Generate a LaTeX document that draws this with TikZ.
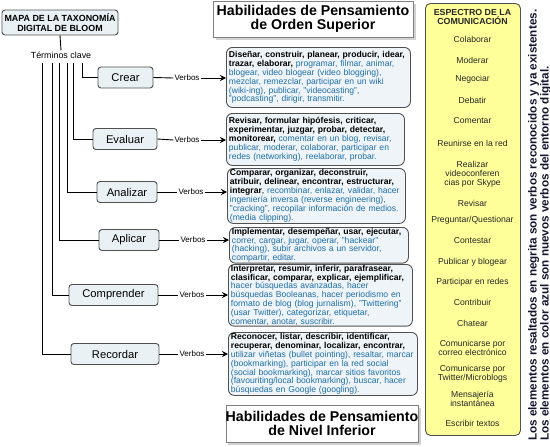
\documentclass[tikz,border=0pt]{standalone}
\usepackage{fontspec}
\setmainfont{Liberation Sans}
\usetikzlibrary{arrows.meta,shadows}
\definecolor{blu}{RGB}{30,110,170}
\definecolor{bord}{RGB}{80,80,80}
\definecolor{catfill}{RGB}{234,241,245}
\definecolor{vfill}{RGB}{238,244,248}
\definecolor{ylw}{RGB}{255,255,153}
\definecolor{vtext}{RGB}{20,20,45}
\newcommand{\bl}[1]{\textcolor{blu}{#1}}
\newcommand{\Ln}[1]{\mbox{#1}}
\begin{document}
\begin{tikzpicture}[x=1pt,y=-1pt,
  catbox/.style={draw=bord, fill=catfill, rounded corners=3pt, line width=0.9pt, minimum height=21pt, inner sep=0pt, font=\fontsize{11.2}{12}\selectfont},
  vbox/.style={draw=bord, fill=vfill, rounded corners=6pt, line width=0.9pt, anchor=north west, align=left, inner xsep=2.5pt, inner ysep=0.5pt, font=\fontsize{8.6}{8.9}\selectfont},
  verblab/.style={font=\fontsize{8}{9}\selectfont, inner sep=1pt},
  conn/.style={line width=0.9pt},
  arr/.style={line width=0.9pt, -{Stealth[length=6pt,width=6pt]}},
  head/.style={draw=gray, fill=white, align=center, font=\bfseries\fontsize{14.2}{13.5}\selectfont, drop shadow={shadow xshift=2.5pt,shadow yshift=-2.5pt,fill=gray!70}, inner sep=0pt},
  yitem/.style={font=\fontsize{8.6}{9}\selectfont, align=center, text=black!85, inner sep=0pt}
]
\useasboundingbox (0,0) rectangle (550,447);

% title
\node[draw=bord, fill=catfill, rounded corners=3pt, line width=0.9pt, minimum width=116pt, minimum height=25pt, align=center, inner sep=0pt, font=\bfseries\fontsize{8.9}{9.5}\selectfont] (title) at (60,22.5) {MAPA DE LA TAXONOMÍA\\DIGITAL DE BLOOM};
\node[font=\fontsize{8.9}{9}\selectfont, inner sep=1pt] (terms) at (61,55) {Términos clave};
\draw[conn] (title.south) -- (terms.north);

% headings
\node[head, minimum width=200pt, minimum height=36pt] (hsup) at (313,19) {Habilidades de Pensamiento\\de Orden Superior};
\node[head, minimum width=190pt, minimum height=37pt] (hinf) at (322,423.5) {Habilidades de Pensamiento\\de Nivel Inferior};

% category boxes
\node[catbox, minimum width=55pt] (crear) at (125.5,77.5) {Crear};
\node[catbox, minimum width=64pt] (evaluar) at (125,139) {Evaluar};
\node[catbox, minimum width=60pt] (analizar) at (127,192) {Analizar};
\node[catbox, minimum width=60pt] (aplicar) at (129,240) {Aplicar};
\node[catbox, minimum width=89pt] (comprender) at (113.5,295) {Comprender};
\node[catbox, minimum width=88pt] (recordar) at (115,354) {Recordar};

% tree
\coordinate (t1) at (82,63);
\coordinate (t2) at (73,63);
\coordinate (t3) at (67,63);
\coordinate (t4) at (59,63);
\coordinate (t5) at (52,63);
\coordinate (t6) at (42,63);
\draw[conn] (t1) |- (crear.west);
\draw[conn] (t2) |- (evaluar.west);
\draw[conn] (t3) |- (analizar.west);
\draw[conn] (t4) |- (aplicar.west);
\draw[conn] (t5) |- (comprender.west);
\draw[conn] (t6) |- (recordar.west);

% verb boxes
\node[vbox, text width=179pt, minimum height=60pt] (b1) at (226,47) {\Ln{\textbf{Diseñar, construir, planear, producir, idear,}}\\\Ln{\textbf{trazar, elaborar,} \bl{programar, filmar, animar,}}\\\Ln{\bl{blogear, video blogear (video blogging),}}\\\Ln{\bl{mezclar, remezclar, participar en un wiki}}\\\Ln{\bl{(wiki-ing), publicar, "videocasting",}}\\\Ln{\bl{"podcasting", dirigir, transmitir.}}};
\node[vbox, text width=173pt, minimum height=52pt] (b2) at (226,113) {\Ln{\textbf{Revisar, formular hipófesis, criticar,}}\\\Ln{\textbf{experimentar, juzgar, probar, detectar,}}\\\Ln{\textbf{monitorear,} \bl{comentar en un blog, revisar,}}\\\Ln{\bl{publicar, moderar, colaborar, participar en}}\\\Ln{\bl{redes (networking), reelaborar, probar.}}};
\node[vbox, text width=173pt, minimum height=55pt] (b3) at (227,168) {\Ln{\textbf{Comparar, organizar, deconstruir,}}\\\Ln{\textbf{atribuir, delinear, encontrar, estructurar,}}\\\Ln{\textbf{integrar}, \bl{recombinar, enlazar, validar, hacer}}\\\Ln{\bl{ingeniería inversa (reverse engineering),}}\\\Ln{\bl{"cracking", recopilar información de medios.}}\\\Ln{\bl{(media clipping).}}};
\node[vbox, text width=174pt, minimum height=34pt] (b4) at (229,227) {\Ln{\textbf{Implementar, desempeñar, usar, ejecutar,}}\\\Ln{\bl{correr, cargar, jugar, operar, "hackear"}}\\\Ln{\bl{(hacking), subir archivos a un servidor,}}\\\Ln{\bl{compartir, editar.}}};
\node[vbox, text width=179pt, minimum height=61pt] (b5) at (228,264) {\Ln{\textbf{Interpretar, resumir, inferir, parafrasear,}}\\\Ln{\textbf{clasificar, comparar, explicar, ejemplificar,}}\\\Ln{\bl{hacer búsquedas avanzadas, hacer}}\\\Ln{\bl{búsquedas Booleanas, hacer periodismo en}}\\\Ln{\bl{formato de blog (blog jurnalism), "Twittering"}}\\\Ln{\bl{(usar Twitter), categorizar, etiquetar,}}\\\Ln{\bl{comentar, anotar, suscribir.}}};
\node[vbox, text width=184pt, minimum height=63pt] (b6) at (228,332) {\Ln{\textbf{Reconocer, listar, describir, identificar,}}\\\Ln{\textbf{recuperar, denominar, localizar, encontrar,}}\\\Ln{\bl{utilizar viñetas (bullet pointing), resaltar, marcar}}\\\Ln{\bl{(bookmarking), participar en la red social}}\\\Ln{\bl{(social bookmarking), marcar sitios favoritos}}\\\Ln{\bl{(favouriting/local bookmarking), buscar, hacer}}\\\Ln{\bl{búsquedas en Google (googling).}}};

% verbos labels and arrows
\node[verblab] (v1) at (187,78) {Verbos};
\node[verblab] (v2) at (187,140) {Verbos};
\node[verblab] (v3) at (191,192) {Verbos};
\node[verblab] (v4) at (193,240) {Verbos};
\node[verblab] (v5) at (192,295) {Verbos};
\node[verblab] (v6) at (192,354) {Verbos};
\foreach \c/\v/\b in {crear/v1/b1, evaluar/v2/b2, analizar/v3/b3, aplicar/v4/b4, comprender/v5/b5, recordar/v6/b6}{
  \draw[conn] (\c.east) -- (\v.west);
  \draw[arr] (\v.east) -- (\b.west |- \v.east);
}

% communication spectrum
\node[draw=bord, fill=ylw, rounded corners=5pt, line width=0.9pt, anchor=north west, minimum width=95pt, minimum height=432pt, inner sep=0pt] (spec) at (425,3) {};
\node[yitem, font=\bfseries\fontsize{8.8}{8.6}\selectfont] (y0) at (472.5,17) {ESPECTRO DE LA\\COMUNICACIÓN};
\node[yitem] (y1) at (472.5,39) {Colaborar};
\node[yitem] (y2) at (472.5,60) {Moderar};
\node[yitem] (y3) at (472.5,79) {Negociar};
\node[yitem] (y4) at (472.5,100) {Debatir};
\node[yitem] (y5) at (472.5,121) {Comentar};
\node[yitem] (y6) at (472.5,143) {Reunirse en la red};
\node[yitem] (y7) at (472.5,174) {Realizar\\videoconferen\\cias por Skype};
\node[yitem] (y8) at (472.5,203) {Revisar};
\node[yitem] (y9) at (472.5,220) {Preguntar/Questionar};
\node[yitem] (y10) at (472.5,241) {Contestar};
\node[yitem] (y11) at (472.5,262) {Publicar y blogear};
\node[yitem] (y12) at (472.5,282) {Participar en redes};
\node[yitem] (y13) at (472.5,302) {Contribuir};
\node[yitem] (y14) at (472.5,323) {Chatear};
\node[yitem] (y15) at (472.5,348) {Comunicarse por\\correo electrónico};
\node[yitem] (y16) at (472.5,373.5) {Comunicarse por\\Twitter/Microblogs};
\node[yitem] (y17) at (472.5,399) {Mensajería\\instantánea};
\node[yitem] (y18) at (472.5,423) {Escribir textos};

% note
\node[rotate=90, anchor=north west, align=left, font=\bfseries\fontsize{11.7}{12}\selectfont, text=vtext, inner sep=0pt] (note) at (528,441) {Los elementos resaltados en negrita son verbos reconocidos y ya existentes.\\Los elementos en color azul son nuevos verbos del entorno digital.};
\end{tikzpicture}
\end{document}
